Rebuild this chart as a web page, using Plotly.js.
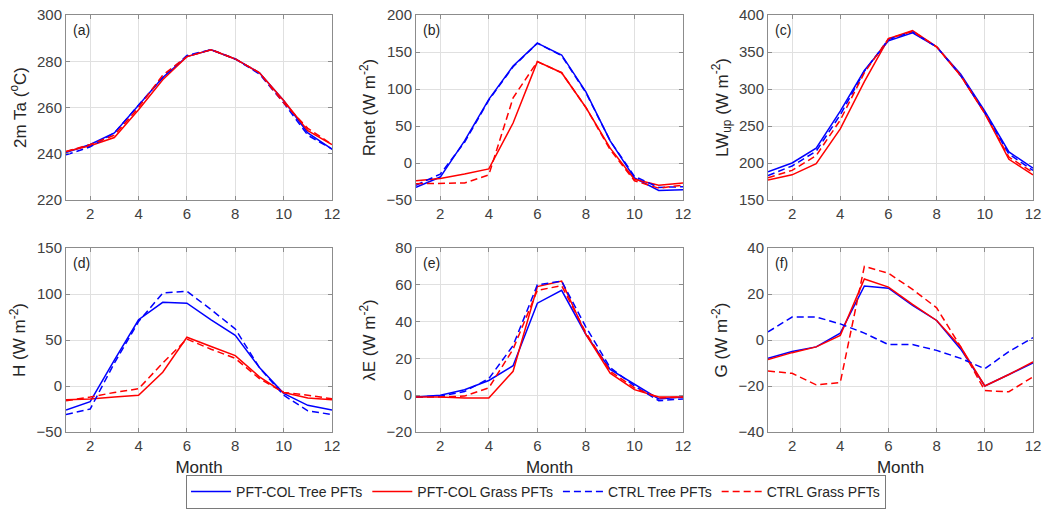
<!DOCTYPE html>
<html><head><meta charset="utf-8">
<script src="https://cdn.plot.ly/plotly-3.0.1.min.js"></script>
<style>html,body{margin:0;padding:0;background:#fff}#chart{width:1049px;height:512px}</style>
</head><body><div id="chart"></div>
<script>
const months = [1,2,3,4,5,6,7,8,9,10,11,12];
const seriesNames = ["PFT-COL Tree PFTs","PFT-COL Grass PFTs","CTRL Tree PFTs","CTRL Grass PFTs"];
const panelLabels = ["(a)","(b)","(c)","(d)","(e)","(f)"];
const yTitles = ["2m Ta (<sup>o</sup>C)","Rnet (W m<sup>-2</sup>)","LW<sub>up</sub> (W m<sup>-2</sup>)","H (W m<sup>-2</sup>)","λE (W m<sup>-2</sup>)","G (W m<sup>-2</sup>)"];
const yRanges = [[220,300],[-50,200],[150,400],[-50,150],[-20,80],[-40,40]];
const yDtick = [20,50,50,50,20,20];

// (a) 2m Ta
const taTree   = [240.5,244,249,261,273,282,285,281,275,263,249,242];
const taGrass  = [241,243.5,247,259,272,282,285,281,275,263,250,244];
const taCtrlTree  = [239.5,243,249,261,273,282.5,285,281,274.5,262,248,242];
const taCtrlGrass = [241,244,248,260,274,282,285,281,275,262,251,244];
// (b) Rnet
const rnTree   = [-33,-19,30,86,131,162,146,96,30,-20,-37,-36];
const rnGrass  = [-24,-21,-15,-8,54,137,122,75,20,-22,-30,-27];
const rnCtrlTree  = [-30,-15,28,85,130,162,145,95,30,-18,-33,-32];
const rnCtrlGrass = [-28,-28,-27,-16,88,137,122,75,18,-24,-34,-30];
// (c) LWup
const lwTree   = [188,200,220,270,325,365,376,357,320,270,215,193];
const lwGrass  = [177,184,199,246,310,368,379,357,318,267,205,184];
const lwCtrlTree  = [183,196,216,265,324,367,377,357,318,268,212,190];
const lwCtrlGrass = [180,190,210,258,322,368,378,357,318,267,208,187];
// (d) H
const hTree   = [-26,-17,28,72,91,90,72,55,20,-8,-21,-26];
const hGrass  = [-15,-14,-12,-10,15,53,43,33,10,-7,-13,-15];
const hCtrlTree  = [-31,-25,25,70,101,103,83,62,20,-10,-27,-31];
const hCtrlGrass = [-16,-12,-7,-3,25,51,40,30,8,-7,-10,-14];
// (e) lambdaE
const leTree   = [-1,0,3,8,16,50,57,33,14,6,-2,-1];
const leGrass  = [-1,-1,-1.5,-1.5,13,59,62,33,12,3,-1,-1];
const leCtrlTree  = [-1,-0.5,2,9,27,60,62,37,15,5,-3,-2];
const leCtrlGrass = [-1,-1,-0.5,4,25,57,59.5,34,13,4,-1.5,-1];
// (f) G
const gTree   = [-8,-5,-3,3,23.5,22.5,15,8.5,-4,-20,-15,-10];
const gGrass  = [-8.5,-5.5,-3,2,26.5,23,15.5,8.5,-3,-20,-15,-9.5];
const gCtrlTree  = [3.5,10,10,7,3,-2,-2,-4.5,-8,-12.5,-5,1];
const gCtrlGrass = [-13.5,-14.5,-19.5,-18.5,32,29,22,14,-3,-22,-22.5,-16];

const panels = [
  [taTree,taGrass,taCtrlTree,taCtrlGrass],
  [rnTree,rnGrass,rnCtrlTree,rnCtrlGrass],
  [lwTree,lwGrass,lwCtrlTree,lwCtrlGrass],
  [hTree,hGrass,hCtrlTree,hCtrlGrass],
  [leTree,leGrass,leCtrlTree,leCtrlGrass],
  [gTree,gGrass,gCtrlTree,gCtrlGrass]
];
const styles = [
  {color:'#0000ff', dash:'solid'},
  {color:'#ff0000', dash:'solid'},
  {color:'#0000ff', dash:'7px,4px'},
  {color:'#ff0000', dash:'7px,4px'}
];

const W = 1049, H = 512;
const xDom = [[66/W,332/W],[416/W,683/W],[768/W,1033/W]];
const yDom = [[1-200/H,1-15/H],[1-432/H,1-248/H]];

const traces = [];
const layout = {
  width: W, height: H,
  margin: {l:0,r:0,t:0,b:0, autoexpand:false},
  paper_bgcolor:'#fff', plot_bgcolor:'#fff',
  font: {family:'Liberation Sans, Arial, sans-serif', size:15, color:'#262626'},
  showlegend: true,
  legend: {orientation:'h', x:0.511, xanchor:'center', y:1-509/H, yanchor:'bottom',
           bordercolor:'#7a7a7a', borderwidth:1, bgcolor:'#fff',
           font:{size:14, color:'#262626'}, itemwidth:40, tracegroupgap:0},
  annotations: []
};

panels.forEach((p, i) => {
  const n = i + 1;
  const xa = n === 1 ? 'x' : 'x' + n;
  const ya = n === 1 ? 'y' : 'y' + n;
  p.forEach((vals, k) => {
    traces.push({
      x: months, y: vals, type:'scatter', mode:'lines',
      name: seriesNames[k], legendgroup: seriesNames[k],
      showlegend: i === 0,
      line: {color: styles[k].color, dash: styles[k].dash, width: 1.5},
      xaxis: xa, yaxis: ya, hoverinfo:'skip'
    });
  });
  const row = i < 3 ? 0 : 1, col = i % 3;
  const axCommon = {
    showline:true, linecolor:'#8c8c8c', linewidth:1, mirror:'ticks',
    ticks:'inside', ticklen:4, tickcolor:'#8c8c8c',
    showgrid:true, gridcolor:'#e0e0e0', gridwidth:1, zeroline:false,
    tickfont:{size:15, color:'#404040'}, automargin:false
  };
  const xaxis = Object.assign({}, axCommon, {
    domain: xDom[col], anchor: ya, range:[1,12], tickvals:[2,4,6,8,10,12]
  });
  if (row === 1) xaxis.title = {text:'Month', font:{size:17, color:'#262626'}, standoff:8};
  layout['xaxis' + (n === 1 ? '' : n)] = xaxis;
  layout['yaxis' + (n === 1 ? '' : n)] = Object.assign({}, axCommon, {
    domain: yDom[row], anchor: xa, range: yRanges[i], dtick: yDtick[i], tick0: yRanges[i][0],
    title: {text: yTitles[i], font:{size:17, color:'#262626'}, standoff:6}
  });
  layout.annotations.push({
    text: panelLabels[i], xref: xa + ' domain', yref: ya + ' domain',
    x: 0.02, y: 0.975, xanchor:'left', yanchor:'top', showarrow:false,
    font:{size:14, color:'#262626'}
  });
});

Plotly.newPlot('chart', traces, layout, {staticPlot:true});
</script></body></html>
